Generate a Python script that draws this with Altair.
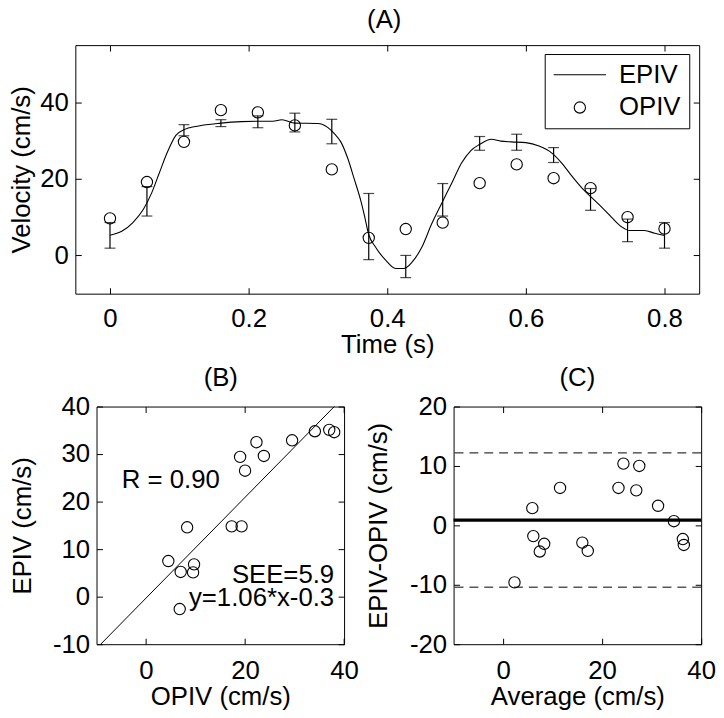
import altair as alt
import pandas as pd

FONT = "Liberation Sans"
FS = 26

# ---------------- Panel A data ----------------
t_curve = [0.000, 0.017, 0.033, 0.048, 0.060, 0.071, 0.083, 0.095, 0.107, 0.126,
           0.160, 0.190, 0.214, 0.235, 0.248, 0.267, 0.300, 0.314, 0.324, 0.333,
           0.343, 0.352, 0.362, 0.367, 0.373, 0.383, 0.398, 0.412, 0.424, 0.436,
           0.450, 0.464, 0.479, 0.493, 0.507, 0.521, 0.533, 0.550, 0.564, 0.579,
           0.600, 0.619, 0.638, 0.652, 0.667, 0.681, 0.695, 0.710, 0.724, 0.738,
           0.750, 0.771, 0.786, 0.800]
v_curve = [5.3, 6.3, 8.6, 12.0, 16.3, 21.5, 27.1, 31.4, 32.9, 33.8,
           34.6, 35.0, 35.1, 35.1, 35.5, 34.6, 34.5, 33.5, 31.8, 29.7,
           25.4, 20.2, 14.2, 10.5, 5.6, 2.2, -1.3, -3.4, -3.4, -1.7,
           2.2, 8.2, 13.8, 18.9, 24.1, 27.5, 29.0, 30.4, 29.9, 29.7,
           29.5, 28.6, 26.7, 24.1, 20.6, 17.6, 15.1, 12.5, 9.9, 7.5,
           6.5, 6.5, 5.8, 5.2]

t_obs = [0.0, 0.0533, 0.1067, 0.16, 0.2133, 0.2667, 0.32, 0.3733,
         0.4267, 0.48, 0.5333, 0.5867, 0.64, 0.6933, 0.7467, 0.8]
opiv = [9.7, 19.2, 29.7, 38.0, 37.4, 34.0, 22.5, 4.6,
        6.9, 8.6, 18.9, 23.8, 20.2, 17.6, 10.0, 7.0]
epiv_lo = [1.9, 10.3, 31.3, 33.7, 33.4, 32.3, 29.2, -1.1,
           -5.8, 10.3, 27.5, 27.5, 24.3, 11.8, 3.6, 1.9]
epiv_hi = [8.6, 18.0, 34.2, 35.5, 36.5, 37.2, 35.6, 16.2,
           0.0, 18.8, 31.1, 31.7, 28.2, 17.5, 9.5, 8.6]
series_names = ["EPIV", "OPIV"]

# ---------------- Panel B data ----------------
opiv_b = [4.5, 7.0, 8.3, 9.7, 9.5, 6.8, 17.3, 19.3,
          19.0, 20.0, 22.3, 23.8, 29.5, 34.1, 37.0, 38.0]
epiv_b = [7.5, 5.2, 14.6, 6.8, 5.1, -2.6, 14.8, 14.8,
          29.4, 26.5, 32.5, 29.6, 32.9, 34.8, 35.1, 34.6]
fit_slope = 1.06
fit_intercept = -0.3
fit_y_ends = [-10, 40]           # fit line drawn across the plotted EPIV range
r_text = ["R = 0.90"]
r_x = [5.0]
r_y = [22.9]
stat_text = ["SEE=5.9", "y=1.06*x-0.3"]
stat_x = [38.0, 38.0]
stat_y = [2.9, -1.9]

# ---------------- Panel C data ----------------
avg_c = [2.3, 5.9, 6.1, 7.4, 8.3, 11.5, 16.0, 17.1,
         23.3, 24.3, 26.9, 27.5, 31.3, 34.5, 36.3, 36.5]
diff_c = [-9.6, 2.9, -1.8, -4.4, -3.1, 6.3, -2.9, -4.3,
          6.3, 10.4, 5.9, 10.0, 3.3, 0.7, -2.3, -3.3]
mean_diff = [0.9]
limits = [12.2, -10.4]

# ---------------- helpers ----------------
def lin(dom, rng=None):
    if rng is None:
        return alt.Scale(domain=dom, nice=False, zero=False)
    return alt.Scale(domain=dom, range=rng, nice=False, zero=False)


def main_axis(orient, vals, label_pad, title_pad, fmt=None, offset=0, domain=False):
    kw = dict(orient=orient, values=vals, ticks=False, tickSize=0, domain=domain,
              domainColor="black", domainWidth=1, offset=offset,
              grid=False, labelFont=FONT, labelFontSize=FS, labelColor="black",
              labelPadding=label_pad, labelFlush=False, labelOverlap=False,
              titleFont=FONT, titleFontSize=FS, titleFontWeight="normal",
              titleColor="black", titlePadding=title_pad)
    if fmt:
        kw["format"] = fmt
    else:
        kw["labelExpr"] = "datum.value + ''"
    return alt.Axis(**kw)


def tick_axis(orient, vals, offset=-6, domain=False):
    return alt.Axis(orient=orient, values=vals, offset=offset, tickSize=6, ticks=True,
                    tickColor="black", tickWidth=1, labels=False, domain=domain,
                    domainColor="black", domainWidth=1, grid=False)


def tick_layers(df, xf, yf, xs, ys, xvals, yvals):
    out = []
    for xo, yo in (("bottom", "left"), ("top", "right")):
        out.append(
            alt.Chart(df).mark_point(opacity=0).encode(
                x=alt.X(xf, type="quantitative", scale=xs,
                        axis=tick_axis(xo, xvals), title=None),
                y=alt.Y(yf, type="quantitative", scale=ys,
                        axis=tick_axis(yo, yvals), title=None),
            )
        )
    return out


# ---------------- Panel A ----------------
XA = [-0.05, 0.85]
YA = [-10, 55]
xa = lin(XA)
ya = lin(YA)
curve_df = pd.DataFrame({"t": t_curve, "v": v_curve})
obs_df = pd.DataFrame({"t": t_obs, "opiv": opiv, "lo": epiv_lo, "hi": epiv_hi,
                       "series": series_names[1]})

a_line = alt.Chart(curve_df).mark_line(color="black", strokeWidth=1.1,
                                        interpolate="monotone").encode(
    x=alt.X("t:Q", scale=xa, title="Time (s)",
            axis=main_axis("bottom", [0, 0.2, 0.4, 0.6, 0.8], 12, 0, fmt="~g")),
    y=alt.Y("v:Q", scale=ya, title="Velocity (cm/s)",
            axis=main_axis("left", [0, 20, 40], 7, 5)),
)
a_rule = alt.Chart(obs_df).mark_rule(color="black", strokeWidth=1.2).encode(
    x=alt.X("t:Q", scale=xa, axis=None),
    y=alt.Y("lo:Q", scale=ya, axis=None),
    y2="hi:Q",
)
a_cap_lo = alt.Chart(obs_df).mark_tick(orient="horizontal", size=11, thickness=1.2,
                                       color="black").encode(
    x=alt.X("t:Q", scale=xa, axis=None),
    y=alt.Y("lo:Q", scale=ya, axis=None),
)
a_cap_hi = alt.Chart(obs_df).mark_tick(orient="horizontal", size=11, thickness=1.2,
                                       color="black").encode(
    x=alt.X("t:Q", scale=xa, axis=None),
    y=alt.Y("hi:Q", scale=ya, axis=None),
)
leg = alt.Legend(title=None, orient="none", legendX=474, legendY=9,
                 strokeColor="black", fillColor="white",
                 padding=8, rowPadding=7, clipHeight=26,
                 labelFont=FONT, labelFontSize=FS, labelColor="black",
                 symbolStrokeColor="black", symbolFillColor="transparent",
                 symbolStrokeWidth=1.1, labelOffset=12)
a_pts = alt.Chart(obs_df).mark_point(filled=False, color="black",
                                     strokeWidth=1.1, opacity=1).encode(
    x=alt.X("t:Q", scale=xa, axis=None),
    y=alt.Y("opiv:Q", scale=ya, axis=None),
    shape=alt.Shape("series:N",
                    scale=alt.Scale(domain=series_names, range=["stroke", "circle"]),
                    legend=leg),
    size=alt.Size("series:N",
                  scale=alt.Scale(domain=series_names, range=[2800, 130]),
                  legend=leg),
)
panel_a = alt.layer(
    a_line, a_rule, a_cap_lo, a_cap_hi, a_pts,
    *tick_layers(obs_df, "t", "opiv", xa, ya, [0, 0.2, 0.4, 0.6, 0.8], [0, 20, 40])
).resolve_scale(x="independent", y="independent").resolve_axis(
    x="independent", y="independent").properties(
    width=630, height=251, title=alt.TitleParams("(A)", dx=-3))

# ---------------- Panel B (frame shifted right inside its cell) ----------------
XB = [-10, 40]
YB = [-10, 40]
B_SHIFT = 21.4
B_W = 250
xb = lin(XB, [B_SHIFT, B_SHIFT + B_W])
yb = lin(YB)
b_df = pd.DataFrame({"o": opiv_b, "e": epiv_b})
fit_df = pd.DataFrame({"x": [(y - fit_intercept) / fit_slope for y in fit_y_ends],
                       "y": fit_y_ends})
r_df = pd.DataFrame({"x": r_x, "y": r_y, "txt": r_text})
s_df = pd.DataFrame({"x": stat_x, "y": stat_y, "txt": stat_text})

b_line = alt.Chart(fit_df).mark_line(color="black", strokeWidth=1).encode(
    x=alt.X("x:Q", scale=xb, title="OPIV (cm/s)",
            axis=main_axis("bottom", [0, 20, 40], 14, 0, domain=True)),
    y=alt.Y("y:Q", scale=yb, title="EPIV (cm/s)",
            axis=main_axis("left", [-10, 0, 10, 20, 30, 40], 7, 17,
                           offset=-B_SHIFT, domain=True)),
)
b_pts = alt.Chart(b_df).mark_point(filled=False, color="black", size=130,
                                   strokeWidth=1.1, opacity=1).encode(
    x=alt.X("o:Q", scale=xb, axis=None),
    y=alt.Y("e:Q", scale=yb, axis=None),
)
b_r = alt.Chart(r_df).mark_text(font=FONT, fontSize=FS, color="black", align="center",
                                baseline="alphabetic").encode(
    x=alt.X("x:Q", scale=xb, axis=None),
    y=alt.Y("y:Q", scale=yb, axis=None),
    text="txt:N",
)
b_s = alt.Chart(s_df).mark_text(font=FONT, fontSize=FS, color="black", align="right",
                                baseline="alphabetic").encode(
    x=alt.X("x:Q", scale=xb, axis=None),
    y=alt.Y("y:Q", scale=yb, axis=None),
    text="txt:N",
)
b_frame = alt.Chart(b_df).mark_point(opacity=0).encode(
    x=alt.X("o:Q", scale=xb, title="(B)",
            axis=alt.Axis(orient="top", values=[], offset=0, ticks=False, labels=False,
                          domain=True, domainColor="black", domainWidth=1, grid=False,
                          titleFont=FONT, titleFontSize=FS, titleFontWeight="normal",
                          titleColor="black", titlePadding=16)),
    y=alt.Y("e:Q", scale=yb, title=None,
            axis=tick_axis("left", [-10, 0, 10, 20, 30, 40],
                           offset=-(B_SHIFT + B_W), domain=True)),
)
b_tick1 = alt.Chart(b_df).mark_point(opacity=0).encode(
    x=alt.X("o:Q", scale=xb, title=None, axis=tick_axis("bottom", [0, 20, 40])),
    y=alt.Y("e:Q", scale=yb, title=None,
            axis=tick_axis("left", [-10, 0, 10, 20, 30, 40], offset=-(B_SHIFT + 6))),
)
b_tick2 = alt.Chart(b_df).mark_point(opacity=0).encode(
    x=alt.X("o:Q", scale=xb, title=None, axis=tick_axis("top", [0, 20, 40])),
    y=alt.Y("e:Q", scale=yb, axis=None),
)
panel_b = alt.layer(
    b_line, b_pts, b_r, b_s, b_frame, b_tick1, b_tick2
).resolve_scale(x="independent", y="independent").resolve_axis(
    x="independent", y="independent").properties(
    width=B_W, height=240, view=alt.ViewBackground(stroke="transparent"))

# ---------------- Panel C ----------------
XC = [-10, 40]
YC = [-20, 20]
xc = lin(XC)
yc = lin(YC)
c_df = pd.DataFrame({"a": avg_c, "d": diff_c})
mean_df = pd.DataFrame({"m": mean_diff})
lim_df = pd.DataFrame({"l": limits})

c_pts = alt.Chart(c_df).mark_point(filled=False, color="black", size=130,
                                   strokeWidth=1.1, opacity=1).encode(
    x=alt.X("a:Q", scale=xc, title="Average (cm/s)",
            axis=main_axis("bottom", [0, 20, 40], 14, 0)),
    y=alt.Y("d:Q", scale=yc, title="EPIV-OPIV (cm/s)",
            axis=main_axis("left", [-20, -10, 0, 10, 20], 7, 18)),
)
c_mean = alt.Chart(mean_df).mark_rule(color="black", strokeWidth=3.3).encode(
    y=alt.Y("m:Q", scale=yc, axis=None),
)
c_lim = alt.Chart(lim_df).mark_rule(color="black", strokeWidth=1, strokeDash=[9, 6]).encode(
    y=alt.Y("l:Q", scale=yc, axis=None),
)
panel_c = alt.layer(
    c_pts, c_mean, c_lim,
    *tick_layers(c_df, "a", "d", xc, yc, [0, 20, 40], [-20, -10, 0, 10, 20])
).resolve_scale(x="independent", y="independent").resolve_axis(
    x="independent", y="independent").properties(
    width=250, height=240, title=alt.TitleParams("(C)", offset=3))

chart = alt.vconcat(
    panel_a,
    alt.hconcat(panel_b, panel_c, spacing=5),
    spacing=6,
).properties(
    padding={"left": 0, "top": -5, "right": 0, "bottom": 0}, background="white"
).configure_view(
    stroke="black", strokeWidth=1
).configure_title(
    font=FONT, fontSize=FS, fontWeight="normal", color="black", offset=12,
    anchor="middle", frame="group"
)

chart.save("out.html", embed_options={"renderer": "svg", "actions": False})
